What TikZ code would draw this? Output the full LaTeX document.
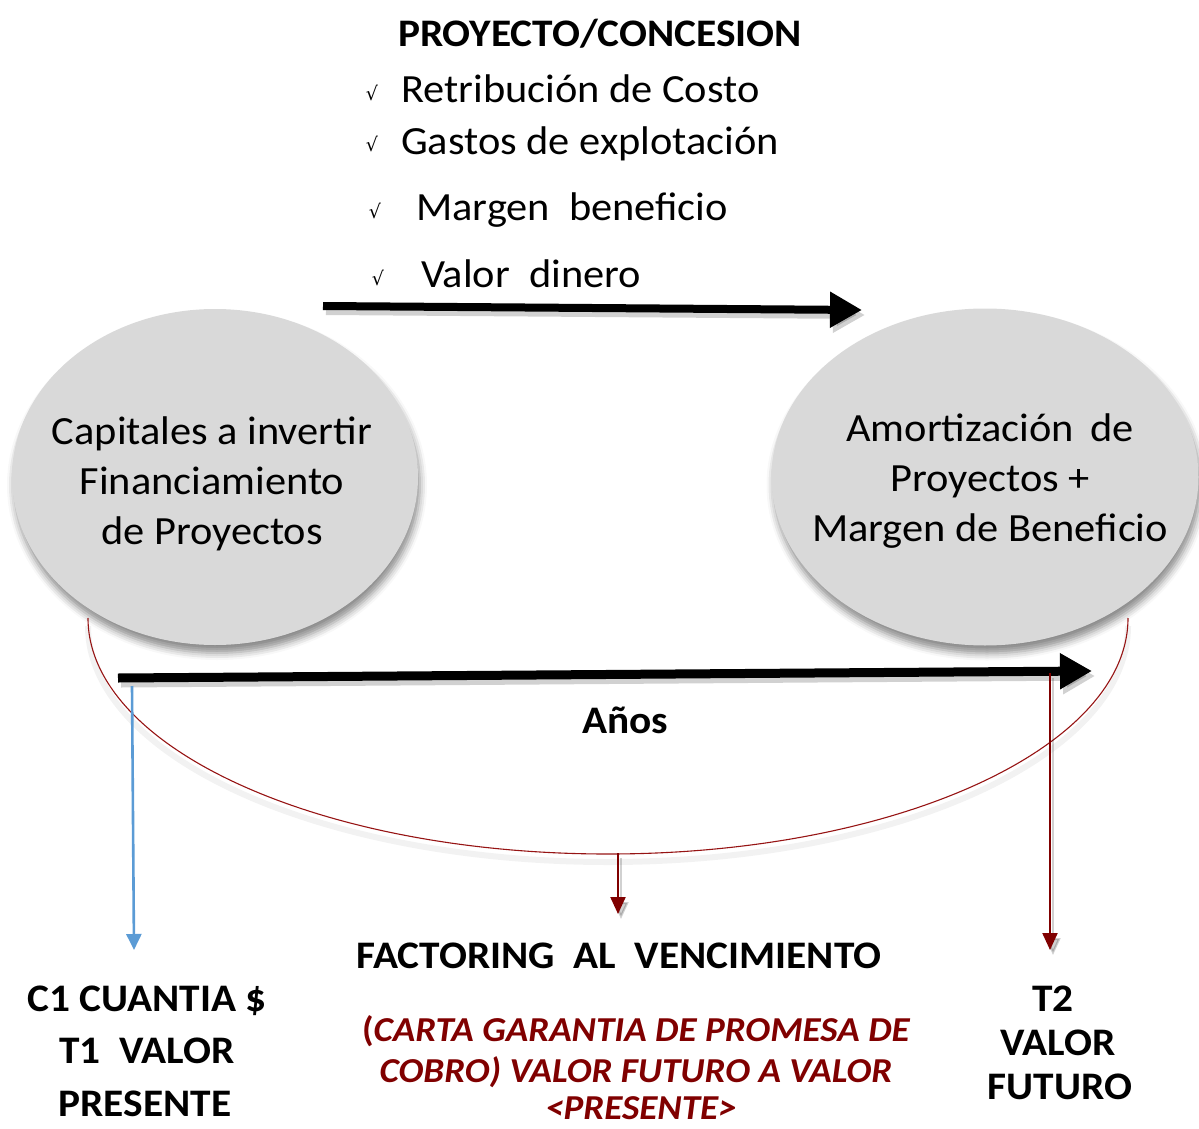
\documentclass[tikz,border=0pt]{standalone}
\usepackage{fontspec}
\setmainfont{Carlito}[FakeStretch=1.06]
\newfontfamily\symfont{DejaVu Sans}
\usetikzlibrary{arrows.meta,shapes.geometric,shadows.blur}
\definecolor{elgray}{RGB}{217,217,217}
\definecolor{dred}{RGB}{128,0,0}
\definecolor{arcred}{RGB}{150,20,20}
\definecolor{lblue}{RGB}{91,155,213}
\newcommand\myfs[2]{\fontsize{#1}{#2}\selectfont}
\begin{document}
\begin{tikzpicture}[x=1pt,y=-1pt,
  bubble/.style={ellipse, fill=elgray, inner sep=0pt,
    blur shadow={shadow xshift=2pt, shadow yshift=-8pt, shadow blur radius=7pt, shadow opacity=45}},
  etxt/.style={align=center, font=\myfs{40}{50}, inner sep=0pt},
  item/.style={anchor=base west, font=\myfs{40}{48}, inner sep=0pt},
  chk/.style={anchor=base, font=\symfont\myfs{19}{22}, inner sep=0pt},
  btxt/.style={anchor=base, font=\bfseries\myfs{39}{46}, inner sep=0pt},
  rtxt/.style={anchor=base, font=\bfseries\itshape\myfs{35}{44}, text=dred, inner sep=0pt},
  bigarrow/.style={line width=8pt, -{Triangle[length=32pt,width=34pt]}},
  arrshadow/.style={black, opacity=0.18, transform canvas={shift={(3pt,-5pt)}}},
  thinarrow/.style={line width=2.2pt, -{Triangle[length=17pt,width=15pt]}}
]
\useasboundingbox (0,0) rectangle (1199,1129);

% title and list
\node[btxt] (title) at (600,47) {PROYECTO/CONCESION};
\node[chk] (k1) at (372,101) {√};
\node[item] (i1) at (401,103) {Retribución de Costo};
\node[chk] (k2) at (372,152) {√};
\node[item] (i2) at (401,154) {Gastos de explotación};
\node[chk] (k3) at (375,218) {√};
\node[item] (i3) at (416,220) {Margen\ \ beneficio};
\node[chk] (k4) at (378,285) {√};
\node[item] (i4) at (421,287) {Valor\ \ dinero};

% ellipses
\node[bubble, minimum width=406pt, minimum height=336pt] (capE) at (215,477) {};
\node[bubble, minimum width=427pt, minimum height=337pt] (amoE) at (985,477) {};
\node[etxt] (capT) at (212,484) {Capitales a invertir\\Financiamiento\\de Proyectos};
\node[etxt] (amoT) at (990,481) {Amortización\ \,de\\Proyectos +\\Margen de Beneficio};

% top arrow
\coordinate (ta) at (323,306);
\coordinate (tb) at (862,310);
\draw[bigarrow, arrshadow] (ta) -- (tb);
\draw[bigarrow] (ta) -- (tb);

% red arc
\coordinate (arcL) at (88,618);
\draw[black, opacity=0.05, line width=6pt, transform canvas={shift={(0pt,-8pt)}}]
  (arcL) arc[start angle=180, end angle=360, x radius=520pt, y radius=236pt];
\draw[arcred, line width=1.1pt] (arcL) arc[start angle=180, end angle=360, x radius=520pt, y radius=236pt];

% bottom arrow
\coordinate (ba) at (118,678);
\coordinate (bb) at (1092,671);
\draw[bigarrow, line width=9pt, arrshadow] (ba) -- (bb);
\draw[bigarrow, line width=9pt] (ba) -- (bb);
\node[btxt] (anos) at (625,733) {Años};

% vertical arrows
\coordinate (bl1) at (132,686);
\coordinate (bl2) at (134,950);
\draw[thinarrow, lblue, line width=2.6pt, -{Triangle[length=16pt,width=15pt]}] (bl1) -- (bl2);
\coordinate (rr1) at (1050,673);
\coordinate (rr2) at (1050,950);
\draw[thinarrow, arrshadow] (rr1) -- (rr2);
\draw[thinarrow, dred] (rr1) -- (rr2);
\coordinate (mm1) at (618,853);
\coordinate (mm2) at (618,914);
\draw[thinarrow, arrshadow] (mm1) -- (mm2);
\draw[thinarrow, dred] (mm1) -- (mm2);

% bottom texts
\node[btxt] (fac) at (619,968) {FACTORING\ \ AL\ \ VENCIMIENTO};
\node[rtxt] (r1) at (636,1041) {{\upshape(}CARTA GARANTIA DE PROMESA DE};
\node[rtxt] (r2) at (636,1082) {COBRO) VALOR FUTURO A VALOR};
\node[rtxt] (r3) at (641,1119) {<PRESENTE>};

\node[btxt] (l1) at (147,1011) {C1 CUANTIA \$};
\node[btxt] (l2) at (147,1063) {T1\ \ VALOR};
\node[btxt] (l3) at (145,1116) {PRESENTE};

\node[btxt] (t1) at (1053,1011) {T2};
\node[btxt] (t2) at (1058,1055) {VALOR};
\node[btxt] (t3) at (1060,1099) {FUTURO};
\end{tikzpicture}
\end{document}
